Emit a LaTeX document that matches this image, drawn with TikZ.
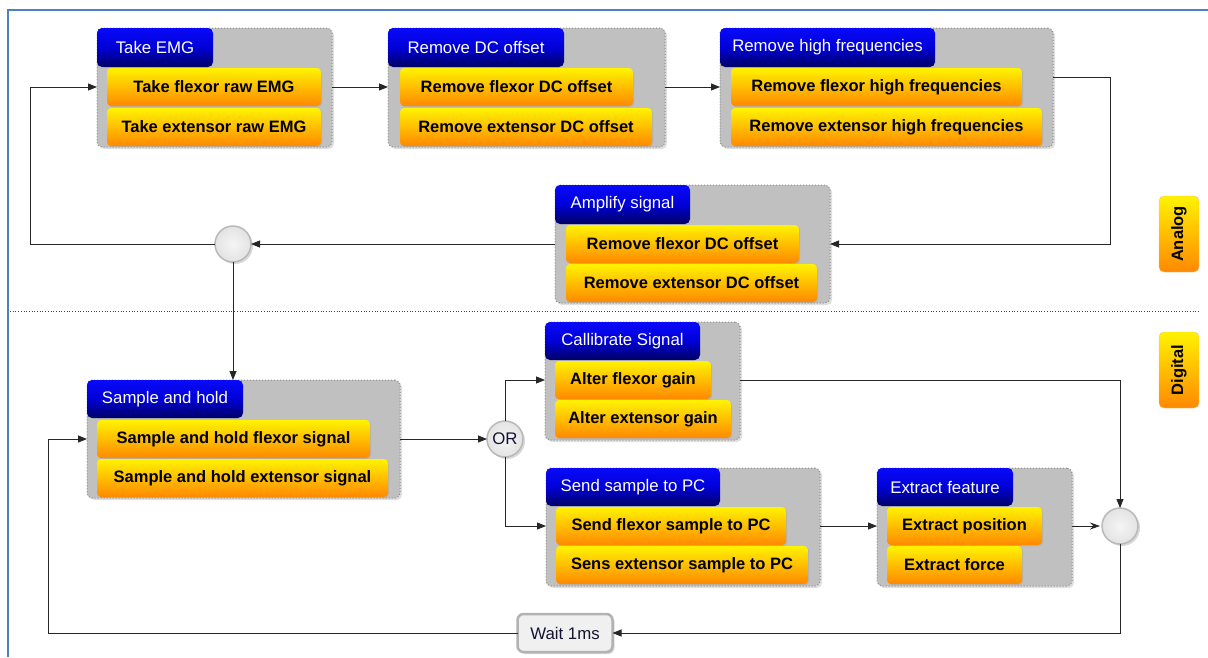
\documentclass[tikz,border=0pt]{standalone}
\usepackage{fontspec}
\setmainfont{Liberation Sans}
\usetikzlibrary{arrows.meta,shadows,calc}

\definecolor{itemtop}{RGB}{255,243,0}
\definecolor{itembot}{RGB}{255,136,0}
\definecolor{hdrtop}{RGB}{10,10,250}
\definecolor{hdrmid}{RGB}{0,0,215}
\definecolor{hdrbot}{RGB}{0,0,100}
\definecolor{grpfill}{RGB}{192,192,192}
\definecolor{grpline}{RGB}{140,140,140}
\definecolor{framecol}{RGB}{79,129,189}
\definecolor{inktext}{RGB}{20,20,50}

\tikzset{
  txt/.style={font=\fontsize{16.8}{19}\selectfont},
  grp/.style={draw=grpline, dotted, line width=1pt, fill=grpfill,
    rounded corners=5pt, inner sep=0pt, outer sep=0pt, anchor=north west,
    drop shadow={opacity=0.25, shadow xshift=2pt, shadow yshift=-2pt}},
  hdr/.style={txt, top color=hdrtop, bottom color=hdrbot, middle color=hdrmid,
    rounded corners=5pt, text=white, anchor=north west, inner sep=0pt, outer sep=0pt},
  item/.style={font=\bfseries\fontsize{16.5}{19}\selectfont,
    top color=itemtop, bottom color=itembot, rounded corners=4pt,
    anchor=north west, inner sep=0pt, outer sep=0pt, minimum height=38pt,
    drop shadow={opacity=0.2, shadow xshift=1pt, shadow yshift=-1pt}},
  junction/.style={txt, circle, minimum size=36pt, inner sep=0pt, outer sep=0pt,
    inner color=gray!8, outer color=gray!22, draw=gray!55, line width=1.5pt, text=inktext,
    drop shadow={opacity=0.3, shadow xshift=2pt, shadow yshift=-2pt}},
  waitbox/.style={txt, rounded corners=6pt, minimum width=95pt, minimum height=38pt,
    inner sep=0pt, outer sep=0pt, fill=gray!12, draw=gray!60, line width=2.5pt,
    text=inktext, drop shadow={opacity=0.3, shadow xshift=2pt, shadow yshift=-2pt}},
  phase/.style={font=\bfseries\fontsize{16.5}{19}\selectfont, rotate=90,
    top color=itemtop, bottom color=itembot, rounded corners=5pt,
    minimum width=76pt, minimum height=40pt, inner sep=0pt, outer sep=0pt,
    draw=orange!55, line width=0.4pt},
  link/.style={draw=black!85, line width=0.9pt},
  arr/.style={link, -{Triangle[length=9pt,width=7pt]}},
  barb/.style={link, shorten >=2pt, -{Stealth[length=10pt,width=7pt]}},
}

\begin{document}
\begin{tikzpicture}[x=1pt,y=-1pt]
\useasboundingbox (0,0) rectangle (1208,657);

% outer frame
\draw[framecol, line width=1.5pt] (1208,10) -- (8,10) -- (8,657);

% analog / digital separator
\draw[dotted, black!75, line width=0.7pt] (10,311) -- (1200,311);

% phase tags
\node[phase] (analog) at (1179,234) {Analog};
\node[phase] (digital) at (1179,370) {Digital};

% Take EMG
\node[grp, minimum width=235pt, minimum height=119pt] (g1) at (97,28) {};
\node[hdr, minimum width=116pt, minimum height=39pt] (h1) at (97,28) {Take EMG};
\node[item, minimum width=214pt] (a1) at (107,68) {Take flexor raw EMG};
\node[item, minimum width=214pt] (a2) at (107,108) {Take extensor raw EMG};

% Remove DC offset
\node[grp, minimum width=277pt, minimum height=119pt] (g2) at (388,28) {};
\node[hdr, minimum width=176pt, minimum height=39pt] (h2) at (388,28) {Remove DC offset};
\node[item, minimum width=233pt] (b1) at (400,68) {Remove flexor DC offset};
\node[item, minimum width=252pt] (b2) at (400,108) {Remove extensor DC offset};

% Remove high frequencies
\node[grp, minimum width=333pt, minimum height=119pt] (g3) at (720,28) {};
\node[hdr, minimum width=215pt, minimum height=39pt] (h3) at (720,28) {Remove high frequencies};
\node[item, minimum width=291pt] (r1) at (731,68) {Remove flexor high frequencies};
\node[item, minimum width=311pt] (r2) at (731,108) {Remove extensor high frequencies};

% Amplify signal
\node[grp, minimum width=275pt, minimum height=118pt] (g4) at (555,185) {};
\node[hdr, minimum width=135pt, minimum height=39pt] (h4) at (555,185) {Amplify signal};
\node[item, minimum width=233pt] (m1) at (566,225) {Remove flexor DC offset};
\node[item, minimum width=251pt] (m2) at (566,264) {Remove extensor DC offset};

% Sample and hold
\node[grp, minimum width=313pt, minimum height=118pt] (g5) at (87,380) {};
\node[hdr, minimum width=156pt, minimum height=38pt] (h5) at (87,380) {Sample and hold};
\node[item, minimum width=273pt] (s1) at (97,420) {Sample and hold flexor signal};
\node[item, minimum width=291pt] (s2) at (97,459) {Sample and hold extensor signal};

% Callibrate Signal
\node[grp, minimum width=195pt, minimum height=118pt] (g6) at (545,322) {};
\node[hdr, minimum width=155pt, minimum height=38pt] (h6) at (545,322) {Callibrate Signal};
\node[item, minimum width=156pt] (k1) at (555,361) {Alter flexor gain};
\node[item, minimum width=176pt] (k2) at (555,400) {Alter extensor gain};

% Send sample to PC
\node[grp, minimum width=274pt, minimum height=118pt] (g7) at (546,468) {};
\node[hdr, minimum width=174pt, minimum height=38pt] (h7) at (546,468) {Send sample to PC};
\node[item, minimum width=230pt] (p1) at (556,507) {Send flexor sample to PC};
\node[item, minimum width=252pt] (p2) at (556,546) {Sens extensor sample to PC};

% Extract feature
\node[grp, minimum width=195pt, minimum height=118pt] (g8) at (877,468) {};
\node[hdr, minimum width=136pt, minimum height=38pt] (h8) at (877,468) {Extract feature};
\node[item, minimum width=155pt] (e1) at (887,507) {Extract position};
\node[item, minimum width=135pt] (e2) at (887,546) {Extract force};

% junctions and delay
\node[junction] (j1) at (233,244) {};
\node[junction] (orj) at (505,439) {OR};
\node[junction] (j2) at (1120,526) {};
\node[waitbox] (wt) at (565,633) {Wait 1ms};

% routing points of the loops
\coordinate (lpA) at (30,0);
\coordinate (lpB) at (48,0);
\coordinate (rtA) at (1110,0);

% analog chain
\draw[arr] (g1.east |- a1.center) -- (g2.west |- a1.center);
\draw[arr] (g2.east |- b1.center) -- (g3.west |- b1.center);
\draw[arr] ([yshift=10pt]r1.center -| g3.east) -| (rtA |- m1.center) -- (g4.east |- m1.center);
\draw[arr] (g4.west |- m1.center) -- (j1.east);
\draw[arr] (j1.west) -| (lpA |- a1.center) -- (g1.west |- a1.center);
\draw[arr] (j1.south) -- (j1.south |- g5.north);

% digital chain
\draw[arr] (g5.east |- s1.center) -- (orj.west);
\draw[arr] (orj.north) |- (g6.west |- k1.center);
\draw[arr] (orj.south) |- (g7.west |- p1.center);
\draw[arr] (g7.east |- p1.center) -- (g8.west |- e1.center);
\draw[barb] (g8.east |- e1.center) -- (j2.west);
\draw[arr] (g6.east |- k1.center) -| (j2.north);
\draw[arr] (j2.south) |- (wt.east);
\draw[arr] (wt.west) -| (lpB |- s1.center) -- (g5.west |- s1.center);

\end{tikzpicture}
\end{document}
